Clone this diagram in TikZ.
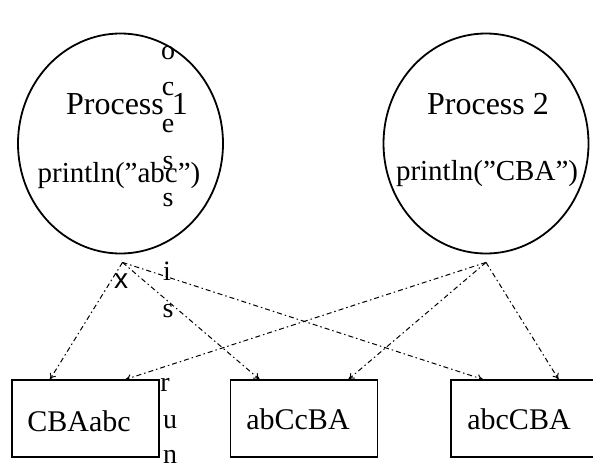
\documentclass[tikz,border=0pt]{standalone}
\usepackage{fontspec}
\setmainfont{Liberation Serif}
\newfontfamily\overlaysans{Liberation Sans}
\usetikzlibrary{shapes.geometric,calc,arrows.meta}
\begin{document}
\begin{tikzpicture}[x=1pt,y=-1pt,
  proc/.style={draw,ellipse,line width=1.8pt,minimum width=205pt,minimum height=220pt,inner sep=0pt},
  outbox/.style={draw,rectangle,line width=1.2pt,minimum width=147pt,minimum height=77pt,inner sep=0pt},
  bigtxt/.style={font=\fontsize{32}{34}\selectfont,inner sep=0pt},
  codetxt/.style={font=\fontsize{29}{31}\selectfont,inner sep=0pt},
  restxt/.style={font=\fontsize{30}{32}\selectfont,inner sep=0pt},
  ovl/.style={font=\fontsize{28}{30}\selectfont,inner sep=0pt,anchor=base},
  conn/.style={line width=1pt,dash pattern=on 5pt off 3pt on 1.5pt off 3pt,
    -{To[length=6pt,width=7pt]}}]
\useasboundingbox (0,0) rectangle (593,469);
\fill[white] (0,0) rectangle (593,469);
% processes
\node[proc] (p1) at (120.5,143.5) {};
\node[proc] (p2) at (486,143.5) {};
\node[bigtxt] (p1t) at (127,104) {Process 1};
\node[codetxt] (p1c) at (119,176) {println("abc")};
\node[bigtxt] (p2t) at (488,104) {Process 2};
\node[codetxt] (p2c) at (487,174) {println("CBA")};
% results
\node[outbox] (b1) at (85.5,418.5) {};
\node[outbox] (b2) at (304,418.5) {};
\node[outbox] (b3) at (524.5,418.5) {};
\node[restxt] (b1t) at (79,421) {CBAabc};
\node[restxt] (b2t) at (298,419) {abCcBA};
\node[restxt] (b3t) at (519,419) {abcCBA};
% connector origins
\coordinate (o1) at ($(p1.south)+(2,8)$);
\coordinate (o2) at ($(p2.south)+(0,8)$);
\draw[conn] (o1) -- ($(b1.north west)!0.26!(b1.north east)$);
\draw[conn] (o1) -- ($(b2.north west)!0.20!(b2.north east)$);
\draw[conn] (o1) -- ($(b3.north west)!0.22!(b3.north east)$);
\draw[conn] (o2) -- ($(b1.north west)!0.77!(b1.north east)$);
\draw[conn] (o2) -- ($(b2.north west)!0.80!(b2.north east)$);
\draw[conn] (o2) -- ($(b3.north west)!0.73!(b3.north east)$);
% overlay letters
\node[ovl] (l1) at (168,59) {o};
\node[ovl] (l2) at (168,95) {c};
\node[ovl] (l3) at (168,132) {e};
\node[ovl] (l4) at (168,169) {s};
\node[ovl] (l5) at (168,206) {s};
\node[ovl] (l6) at (167,280) {i};
\node[ovl] (l7) at (168,317) {s};
\node[ovl] (l8) at (165,391) {r};
\node[ovl] (l9) at (170,428) {u};
\node[ovl] (l10) at (170,463) {n};
\node[ovl,font=\overlaysans\fontsize{28}{30}\selectfont] (lx) at (121,288) {x};
\end{tikzpicture}
\end{document}
